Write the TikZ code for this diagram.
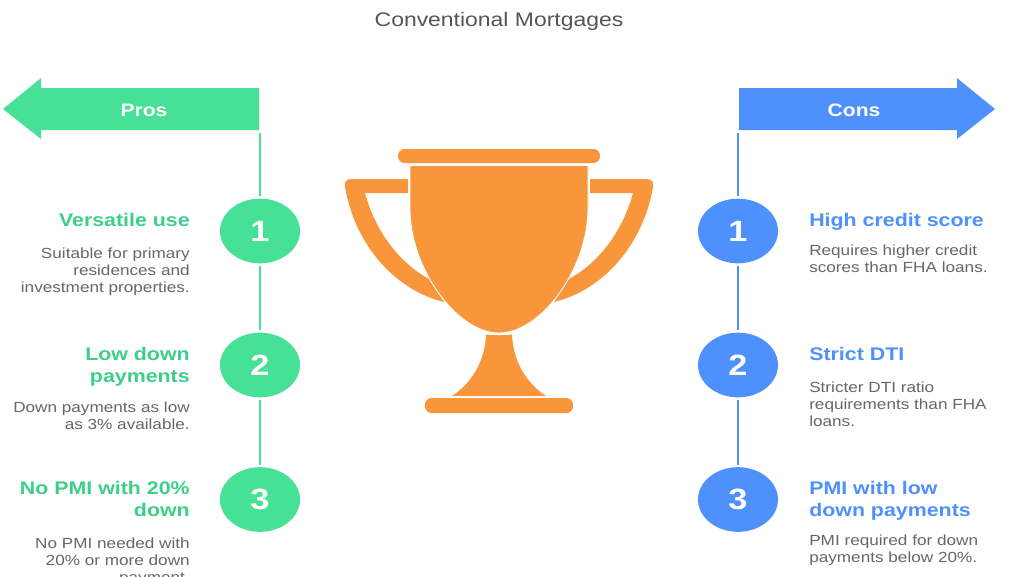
\documentclass[tikz,border=0pt]{standalone}
\usepackage{fontspec}
\setmainfont{Liberation Sans}[FakeStretch=1.17]
\usetikzlibrary{shapes.geometric}
\definecolor{gr}{HTML}{46E096}
\definecolor{grt}{HTML}{3DCF89}
\definecolor{bl}{HTML}{4E91FD}
\definecolor{org}{HTML}{F9963B}
\definecolor{bodyc}{HTML}{666666}
\definecolor{titlec}{HTML}{555555}
\tikzset{
  x=0.75pt,y=-0.75pt,
  num/.style={ellipse,minimum width=60pt,minimum height=48.5pt,inner sep=0pt,text=white,font=\fontsize{22}{22}\selectfont\bfseries},
  lhead/.style={inner sep=0pt,anchor=north east,align=right,text=grt,font=\fontsize{13.7}{16.5}\selectfont\bfseries},
  rhead/.style={inner sep=0pt,anchor=north west,align=left,text=bl,font=\fontsize{13.7}{16.5}\selectfont\bfseries},
  lbody/.style={inner sep=0pt,anchor=north east,align=right,text=bodyc,font=\fontsize{11}{12.6}\selectfont},
  rbody/.style={inner sep=0pt,anchor=north west,align=left,text=bodyc,font=\fontsize{11}{12.6}\selectfont},
  banner/.style={inner sep=0pt,text=white,font=\fontsize{13.5}{13.5}\selectfont\bfseries},
  spine/.style={line width=1.5pt,shorten <=1.5pt,shorten >=1.5pt},
  cupedge/.style={fill=org,draw=white,line width=0.6pt}
}
\begin{document}
\begin{tikzpicture}
\useasboundingbox (0,0) rectangle (1024,576);
\clip (0,0) rectangle (1024,576);
\node[inner sep=0pt,text=titlec,font=\fontsize{14.7}{15}\selectfont] (title) at (499,21) {Conventional Mortgages};
% banners
\fill[gr] (259,88) -- (41,88) -- (41,78) -- (3,109) -- (41,139) -- (41,130) -- (259,130) -- cycle;
\fill[bl] (739,88) -- (957,88) -- (957,78) -- (995,109) -- (957,139) -- (957,130) -- (739,130) -- cycle;
\node[banner] (pros) at (144,110) {Pros};
\node[banner] (cons) at (854,110) {Cons};
\coordinate (prosfoot) at (260,131);
\coordinate (consfoot) at (738,131);
% circles
\node[num,fill=gr] (p1) at (260,231) {1};
\node[num,fill=gr] (p2) at (260,365) {2};
\node[num,fill=gr] (p3) at (260,499.5) {3};
\node[num,fill=bl] (c1) at (738,231) {1};
\node[num,fill=bl] (c2) at (738,365) {2};
\node[num,fill=bl] (c3) at (738,499.5) {3};
\draw[spine,gr] (prosfoot) -- (p1);
\draw[spine,gr] (p1) -- (p2);
\draw[spine,gr] (p2) -- (p3);
\draw[spine,bl] (consfoot) -- (c1);
\draw[spine,bl] (c1) -- (c2);
\draw[spine,bl] (c2) -- (c3);
% left text
\node[lhead] (ph1) at (190,213) {Versatile use};
\node[lbody] (pb1) at (190,248) {Suitable for primary\\residences and\\investment properties.};
\node[lhead] (ph2) at (190,347) {Low down\\payments};
\node[lbody] (pb2) at (190,402) {Down payments as low\\as 3\% available.};
\node[lhead] (ph3) at (190,481) {No PMI with 20\%\\down};
\node[lbody] (pb3) at (190,538) {No PMI needed with\\20\% or more down\\payment.};
% right text
\node[rhead] (ch1) at (809,213) {High credit score};
\node[rbody] (cb1) at (809,245) {Requires higher credit\\scores than FHA loans.};
\node[rhead] (ch2) at (809,347) {Strict DTI};
\node[rbody] (cb2) at (809,382) {Stricter DTI ratio\\requirements than FHA\\loans.};
\node[rhead] (ch3) at (809,481) {PMI with low\\down payments};
\node[rbody] (cb3) at (809,535) {PMI required for down\\payments below 20\%.};
% trophy
\fill[org,rounded corners=5pt] (398,149) rectangle (600,163);
\fill[org,rounded corners=5pt] (425,398) rectangle (573,413);
\fill[org] (408,179) -- (351,179) .. controls (346,179) and (344,183) .. (345,187)
  .. controls (355,245) and (395,290) .. (444,302) -- (429,279)
  .. controls (398,262) and (375,230) .. (365,193) -- (408,193) -- cycle;
\fill[org] (590,179) -- (647,179) .. controls (652,179) and (654,183) .. (653,187)
  .. controls (643,245) and (603,290) .. (554,302) -- (569,279)
  .. controls (600,262) and (623,230) .. (633,193) -- (590,193) -- cycle;
\path[cupedge] (410,165.5) -- (588,165.5) -- (588,208)
  .. controls (588,270) and (540,333) .. (499,333)
  .. controls (458,333) and (410,270) .. (410,208) -- cycle;
\fill[org] (486,334.5) .. controls (491,335.5) and (507,335.5) .. (512,334.5)
  .. controls (513,360) and (525,382) .. (546,396) -- (452,396)
  .. controls (473,382) and (485,360) .. (486,334.5) -- cycle;
\end{tikzpicture}
\end{document}
